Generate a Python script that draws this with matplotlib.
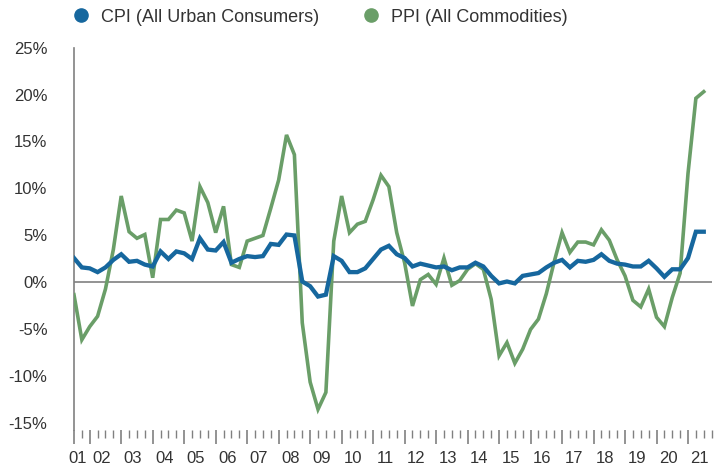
import matplotlib
matplotlib.use("Agg")
import matplotlib.pyplot as plt
from matplotlib.lines import Line2D
from matplotlib.transforms import blended_transform_factory

# quarterly year-over-year change, 2001Q3 .. 2021Q3
cpi = [2.6, 1.6, 1.5, 1.1, 1.6, 2.4, 3.0, 2.2, 2.3, 1.9, 1.7, 3.3, 2.5, 3.3, 3.1, 2.5,
       4.7, 3.5, 3.4, 4.3, 2.1, 2.5, 2.8, 2.7, 2.8, 4.1, 4.0, 5.1, 5.0, 0.1, -0.4, -1.5,
       -1.3, 2.8, 2.3, 1.1, 1.1, 1.5, 2.5, 3.5, 3.9, 3.0, 2.6, 1.7, 2.0, 1.8, 1.6, 1.7,
       1.3, 1.6, 1.6, 2.1, 1.7, 0.7, -0.1, 0.1, -0.1, 0.7, 0.85, 1.0, 1.6, 2.1, 2.4, 1.6,
       2.3, 2.2, 2.4, 3.0, 2.3, 2.0, 1.9, 1.7, 1.7, 2.3, 1.5, 0.6, 1.4, 1.4, 2.6, 5.4, 5.4]
ppi = [-1.3, -6.1, -4.7, -3.6, -0.7, 3.5, 9.2, 5.4, 4.7, 5.1, 0.5, 6.7, 6.7, 7.7, 7.4, 4.4,
       10.2, 8.5, 5.3, 8.1, 1.9, 1.6, 4.4, 4.7, 5.0, 7.9, 10.9, 15.7, 13.6, -4.3, -10.6, -13.5,
       -11.7, 4.4, 9.2, 5.3, 6.2, 6.5, 8.8, 11.4, 10.2, 5.3, 2.1, -2.5, 0.3, 0.85, -0.2, 2.6,
       -0.3, 0.2, 1.4, 2.0, 1.4, -1.8, -7.8, -6.4, -8.6, -7.1, -5.0, -3.9, -1.2, 2.2, 5.3, 3.2,
       4.3, 4.3, 4.0, 5.6, 4.5, 2.4, 0.7, -1.9, -2.6, -0.7, -3.7, -4.7, -1.6, 1.0, 11.6, 19.6, 20.3]
years = list(range(2001, 2022))
year_labels = ["%02d" % (y % 100) for y in years]
first_q1 = 2  # index of 2002Q1

cpi_color = "#16679e"
ppi_color = "#6a9e68"
grey = "#808080"
text_color = "#333333"

plt.rcParams["font.family"] = ["Liberation Sans", "DejaVu Sans"]

fig = plt.figure(figsize=(7.21, 4.66), dpi=100)
ax = fig.add_axes([0.1026, 0.0773, 0.8844, 0.8207])

x = list(range(len(cpi)))
ax.plot(x, ppi, color=ppi_color, lw=2.6, solid_joinstyle="miter", zorder=3)
ax.plot(x, cpi, color=cpi_color, lw=3.1, solid_joinstyle="miter", zorder=4)
ax.axhline(0, color=grey, lw=1.2, zorder=2)

n_ticks = len(cpi) + 1
ax.set_xlim(0, n_ticks - 1)
ax.set_ylim(-15.7, 25)

ax.set_yticks(range(-15, 26, 5))
ax.set_yticklabels(["%d%%" % v for v in range(-15, 26, 5)])
ax.tick_params(axis="y", length=0, pad=19, labelsize=12, labelcolor=text_color)

major = [0] + list(range(first_q1, n_ticks, 4))
ax.set_xticks(major)
ax.set_xticks(range(n_ticks), minor=True)
ax.set_xticklabels([])
ax.tick_params(axis="x", which="major", length=10, width=1.2, color=grey, direction="out")
ax.tick_params(axis="x", which="minor", length=6, width=1.0, color=grey, direction="out")

trans = blended_transform_factory(ax.transData, ax.transAxes)
for y, lab in zip(years, year_labels):
    q1 = first_q1 + 4 * (y - 2002)
    lo = max(q1, 0)
    hi = min(q1 + 3, n_ticks - 1)
    ax.text((lo + hi) / 2, -0.075, lab, transform=trans, ha="center", va="center",
            fontsize=12, color=text_color)

for s in ["top", "right", "bottom"]:
    ax.spines[s].set_visible(False)
ax.spines["left"].set_color(grey)
ax.spines["left"].set_linewidth(1.2)

handles = [Line2D([], [], marker="o", ls="", color=cpi_color, markersize=9.5),
           Line2D([], [], marker="o", ls="", color=ppi_color, markersize=9.5)]
fig.legend(handles, ["CPI (All Urban Consumers)", "PPI (All Commodities)"],
           loc="center left", bbox_to_anchor=(0.087, 1 - 17 / 466), ncol=2, frameon=False,
           fontsize=13, handletextpad=0.1, columnspacing=1.9, labelcolor=text_color,
           borderaxespad=0, borderpad=0)

fig.savefig("out.png", dpi=100)
